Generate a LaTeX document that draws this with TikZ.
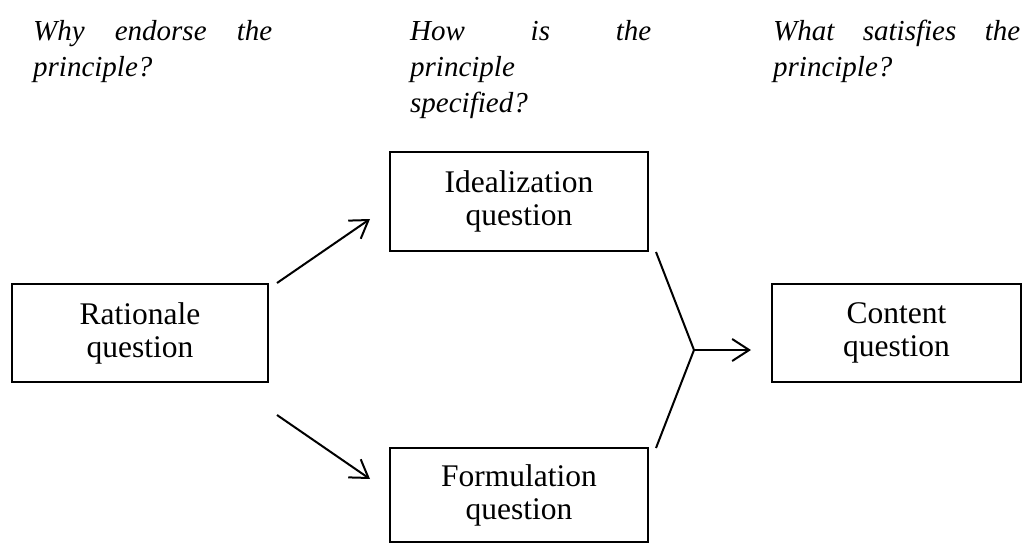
\documentclass[tikz,border=0pt]{standalone}
\usepackage{fontspec}
\setmainfont{Liberation Serif}
\usetikzlibrary{arrows.meta}
\tikzset{
  qbox/.style={draw, line width=2pt, inner sep=0pt, align=center,
    font=\fontsize{31.5}{33}\selectfont},
  toptext/.style={anchor=north west, inner sep=0pt, text width=#1, align=justify,
    font=\fontsize{29}{36}\selectfont\itshape,
    execute at begin node={\hyphenpenalty=10000 \exhyphenpenalty=10000 \parindent=0pt }},
  conn/.style={line width=2pt},
  arr/.style={conn, -{Straight Barb[length=17pt,width=22pt,line width=2pt]}}
}
\begin{document}
\begin{tikzpicture}[x=1pt,y=-1pt]
\useasboundingbox (0,0) rectangle (1023,544);
% top questions
\node[toptext=239pt] (t1) at (33,20) {Why endorse the\linebreak{}principle?};
\node[toptext=241pt] (t2) at (410,20) {How is the\linebreak{}principle\\specified?};
\node[toptext=247pt] (t3) at (773,20) {What satisfies the\linebreak{}principle?};
% boxes
\node[qbox, minimum width=256pt, minimum height=98pt] (rat) at (140,333) {Rationale\\question};
\node[qbox, minimum width=258pt, minimum height=99pt] (ide) at (519,201.5) {Idealization\\question};
\node[qbox, minimum width=258pt, minimum height=94pt] (for) at (519,495) {Formulation\\question};
\node[qbox, minimum width=249pt, minimum height=98pt] (con) at (896.5,333) {Content\\question};
% connector points
\coordinate (a1s) at (277,283);
\coordinate (a1e) at (370,219);
\coordinate (a2s) at (277,415);
\coordinate (a2e) at (370,479);
\coordinate (m1) at (656,252);
\coordinate (m2) at (656,448);
\coordinate (mj) at (694,350);
\coordinate (me) at (751,350);
\draw[arr] (a1s) -- (a1e);
\draw[arr] (a2s) -- (a2e);
\draw[conn, line join=miter] (m1) -- (mj) -- (m2);
\draw[arr] (mj) -- (me);
\end{tikzpicture}
\end{document}
